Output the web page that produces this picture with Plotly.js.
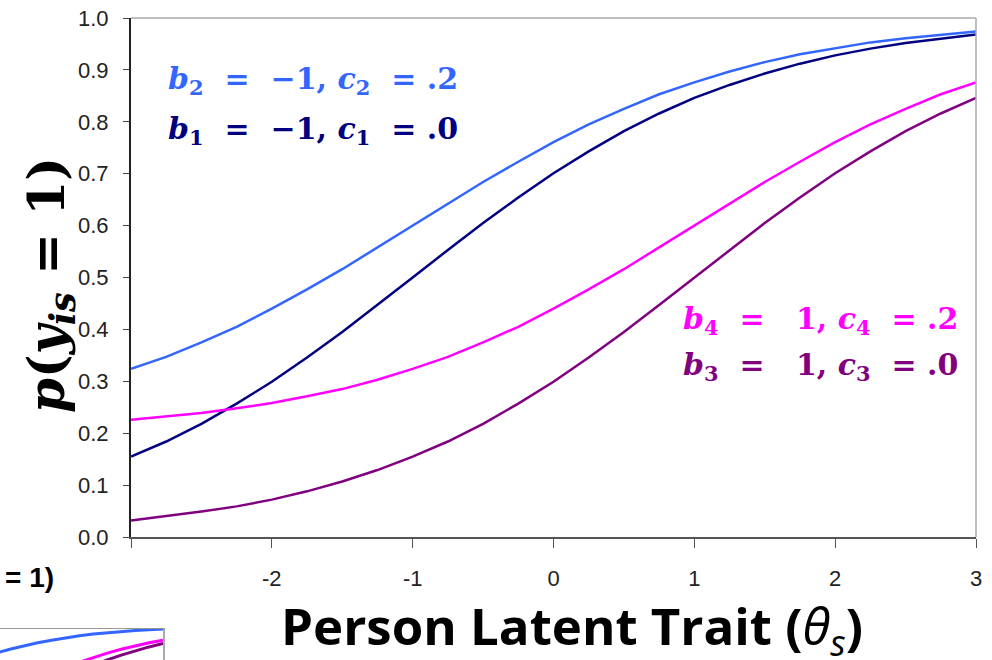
<!DOCTYPE html>
<html>
<head>
<meta charset="utf-8">
<script src="https://cdn.plot.ly/plotly-3.0.1.min.js"></script>
<style>html,body{margin:0;padding:0;background:#fff;}#chart{width:992px;height:660px;}</style>
</head>
<body>
<div id="chart"></div>
<script>
// Person latent trait values (x)
const theta = [-3, -2.75, -2.5, -2.25, -2, -1.75, -1.5, -1.25, -1, -0.75, -0.5, -0.25, 0,
               0.25, 0.5, 0.75, 1, 1.25, 1.5, 1.75, 2, 2.25, 2.5, 2.75, 3];
// b1 = -1, c1 = .0 (navy)
const pB1 = [0.155, 0.184, 0.218, 0.257, 0.299, 0.346, 0.395, 0.447, 0.500, 0.553, 0.605, 0.654, 0.701,
             0.743, 0.782, 0.816, 0.846, 0.871, 0.893, 0.912, 0.928, 0.941, 0.952, 0.960, 0.968];
// b2 = -1, c2 = .2 (blue)
const pB2 = [0.324, 0.347, 0.375, 0.405, 0.440, 0.477, 0.516, 0.558, 0.600, 0.642, 0.684, 0.723, 0.761,
             0.795, 0.825, 0.853, 0.876, 0.897, 0.915, 0.930, 0.942, 0.953, 0.961, 0.968, 0.974];
// b3 = 1, c3 = .0 (purple)
const pB3 = [0.032, 0.040, 0.049, 0.059, 0.072, 0.088, 0.107, 0.129, 0.155, 0.184, 0.218, 0.257, 0.299,
             0.346, 0.395, 0.447, 0.500, 0.553, 0.605, 0.654, 0.701, 0.743, 0.782, 0.816, 0.846];
// b4 = 1, c4 = .2 (magenta)
const pB4 = [0.226, 0.232, 0.239, 0.248, 0.258, 0.271, 0.285, 0.303, 0.324, 0.347, 0.375, 0.405, 0.440,
             0.477, 0.516, 0.558, 0.600, 0.642, 0.684, 0.723, 0.761, 0.795, 0.825, 0.853, 0.876];

const xTickVals = [-3, -2, -1, 0, 1, 2, 3];
const xTickText = ['', '-2', '-1', '0', '1', '2', '3'];
const yTickVals = [0, 0.1, 0.2, 0.3, 0.4, 0.5, 0.6, 0.7, 0.8, 0.9, 1.0];

const s1 = '&nbsp;', s2 = '&nbsp;&nbsp;', s3 = '&nbsp;&nbsp;&nbsp;';
const eq = (i, b, j, c) => '<b><i>b</i><sub>' + i + '</sub>' + s2 + '=' + (b === '1' ? s3 : s2) + b + ',' + s1 +
  '<i>c</i><sub>' + j + '</sub>' + s2 + '=' + s1 + c + '</b>';
const labelB2 = eq('2', '−1', '2', '.2');
const labelB1 = eq('1', '−1', '1', '.0');
const labelB4 = eq('4', '1', '4', '.2');
const labelB3 = eq('3', '1', '3', '.0');
const yTitle = '<b><i>p</i>(<i>y<sub>is</sub></i> = 1)</b>';
const xTitle = '<b>Person Latent Trait (</b><i>θ<sub>s</sub></i><b>)</b>';

const colors = {b1: '#000080', b2: '#3366ff', b3: '#800080', b4: '#ff00ff'};

const W = 992, H = 660;
const px = v => v / W, py = v => 1 - v / H;

const traces = [
  {x: theta, y: pB2, mode: 'lines', line: {color: colors.b2, width: 2.5}, xaxis: 'x', yaxis: 'y'},
  {x: theta, y: pB1, mode: 'lines', line: {color: colors.b1, width: 2.5}, xaxis: 'x', yaxis: 'y'},
  {x: theta, y: pB4, mode: 'lines', line: {color: colors.b4, width: 2.5}, xaxis: 'x', yaxis: 'y'},
  {x: theta, y: pB3, mode: 'lines', line: {color: colors.b3, width: 2.5}, xaxis: 'x', yaxis: 'y'},
  // cropped thumbnail of a neighbouring chart (bottom-left corner)
  {x: theta, y: pB2, mode: 'lines', line: {color: colors.b2, width: 3}, xaxis: 'x2', yaxis: 'y2'},
  {x: theta, y: pB4, mode: 'lines', line: {color: colors.b4, width: 3}, xaxis: 'x2', yaxis: 'y2'},
  {x: theta, y: pB3, mode: 'lines', line: {color: colors.b3, width: 3}, xaxis: 'x2', yaxis: 'y2'}
];

const eqFont = (c) => ({family: 'DejaVu Serif, Liberation Serif, serif', size: 30, color: c});
const tickFont = {family: 'Liberation Sans, Arial, sans-serif', size: 22, color: '#222'};

const layout = {
  width: W, height: H,
  margin: {l: 0, r: 0, t: 0, b: 0},
  paper_bgcolor: '#fff', plot_bgcolor: '#fff',
  showlegend: false,
  xaxis: {
    domain: [px(131), px(976)], range: [-3, 3],
    tickvals: xTickVals, ticktext: xTickText,
    showgrid: false, zeroline: false,
    showline: true, linecolor: '#555', linewidth: 2,
    ticks: 'outside', ticklen: 9, tickcolor: '#555', tickwidth: 1,
    ticklabelstandoff: 12,
    tickfont: tickFont
  },
  yaxis: {
    domain: [1 - 537 / H, 1 - 18 / H], range: [0, 1],
    tickvals: yTickVals, tickformat: '.1f',
    showgrid: false, zeroline: false,
    showline: true, linecolor: '#222', linewidth: 2,
    ticks: 'outside', ticklen: 6, tickcolor: '#444', tickwidth: 1,
    ticklabelstandoff: 10,
    tickfont: tickFont
  },
  xaxis2: {
    domain: [0, px(163)], range: [0.074, 3], anchor: 'y2',
    showgrid: false, zeroline: false, showticklabels: false, ticks: '',
    showline: true, side: 'top', linecolor: '#999', linewidth: 1
  },
  yaxis2: {
    domain: [0, 31 / H], range: [0.70, 0.975], anchor: 'x2',
    showgrid: false, zeroline: false, showticklabels: false, ticks: '',
    showline: true, side: 'right', linecolor: '#aaa', linewidth: 1.5
  },
  shapes: [
    {type: 'line', xref: 'paper', yref: 'paper', x0: px(131), x1: px(976), y0: py(18), y1: py(18), line: {color: '#aaa', width: 1.5}},
    {type: 'line', xref: 'paper', yref: 'paper', x0: px(976), x1: px(976), y0: py(18), y1: py(537), line: {color: '#aaa', width: 1.5}}
  ],
  annotations: [
    {text: labelB2, xref: 'paper', yref: 'paper', x: px(166), y: py(80), xanchor: 'left', yanchor: 'middle', showarrow: false, font: eqFont(colors.b2)},
    {text: labelB1, xref: 'paper', yref: 'paper', x: px(166), y: py(130), xanchor: 'left', yanchor: 'middle', showarrow: false, font: eqFont(colors.b1)},
    {text: labelB4, xref: 'paper', yref: 'paper', x: px(681), y: py(320), xanchor: 'left', yanchor: 'middle', showarrow: false, font: eqFont(colors.b4)},
    {text: labelB3, xref: 'paper', yref: 'paper', x: px(681), y: py(366), xanchor: 'left', yanchor: 'middle', showarrow: false, font: eqFont(colors.b3)},
    {text: yTitle, xref: 'paper', yref: 'paper', x: px(50), y: py(285), xanchor: 'center', yanchor: 'middle', textangle: -90, showarrow: false,
     font: {family: 'DejaVu Serif, Liberation Serif, serif', size: 50, color: '#000'}},
    {text: xTitle, xref: 'paper', yref: 'paper', x: px(572), y: py(628), xanchor: 'center', yanchor: 'middle', showarrow: false,
     font: {family: 'Open Sans, Lato, sans-serif', size: 51, color: '#000'}},
    {text: '<b>= 1)</b>', xref: 'paper', yref: 'paper', x: px(56), y: py(577), xanchor: 'right', yanchor: 'middle', showarrow: false,
     font: {family: 'Liberation Sans, Arial, sans-serif', size: 28, color: '#000'}}
  ]
};

Plotly.newPlot('chart', traces, layout, {displayModeBar: false, staticPlot: true});
</script>
</body>
</html>
